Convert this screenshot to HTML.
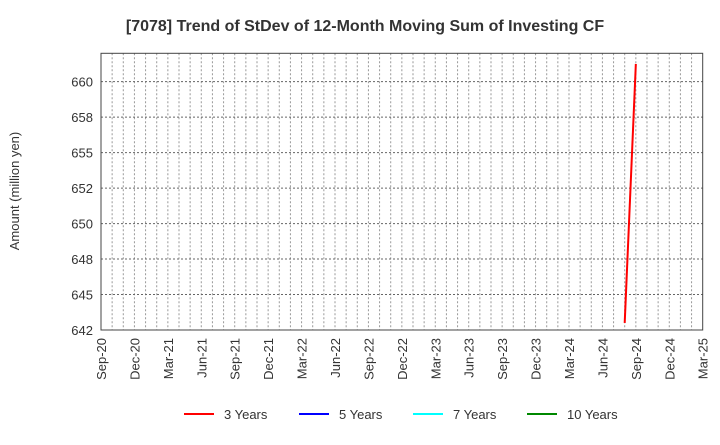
<!DOCTYPE html>
<html><head><meta charset="utf-8"><style>
body{margin:0;background:#fff;font-family:"Liberation Sans",sans-serif;}
svg text{font-family:"Liberation Sans",sans-serif;}
</style></head><body>
<svg width="720" height="440" xmlns="http://www.w3.org/2000/svg">
<text x="365" y="31" text-anchor="middle" font-size="16" font-weight="bold" fill="#333">[7078]  Trend of StDev of 12-Month Moving Sum of Investing CF</text>
<text transform="translate(19,191) rotate(-90)" text-anchor="middle" font-size="13" fill="#333">Amount (million yen)</text>
<g id="grid"></g><g id="yt"></g><g id="xt"></g><g id="series"></g>
<rect x="101" y="53.3" width="601.7" height="276.7" fill="none" stroke="#444" stroke-width="1"/>
<g font-size="13" fill="#333">
<line x1="184" y1="414" x2="214" y2="414" stroke="#f00" stroke-width="2"/><text x="224" y="419">3 Years</text>
<line x1="299" y1="414" x2="329" y2="414" stroke="#00f" stroke-width="2"/><text x="339" y="419">5 Years</text>
<line x1="413" y1="414" x2="443" y2="414" stroke="#0ff" stroke-width="2"/><text x="453" y="419">7 Years</text>
<line x1="527" y1="414" x2="557" y2="414" stroke="#080" stroke-width="2"/><text x="567" y="419">10 Years</text>
</g>
</svg>
<script>
const xLabels=["Sep-20","Dec-20","Mar-21","Jun-21","Sep-21","Dec-21","Mar-22","Jun-22","Sep-22","Dec-22","Mar-23","Jun-23","Sep-23","Dec-23","Mar-24","Jun-24","Sep-24","Dec-24","Mar-25"];
const yTicks=[642.5,645,647.5,650,652.5,655,657.5,660];
const yTickLabels=["642","645","648","650","652","655","658","660"];
const seriesMonths=[47,48]; // months since Sep-20
const series3=[643.0,661.25];
const NS="http://www.w3.org/2000/svg";
const X0=101,X1=702.7,Y0=330,Y1=53.3,MMAX=54,VMIN=642.5,VMAX=662.0;
const xs=m=>X0+(X1-X0)*m/MMAX, ys=v=>Y0-(Y0-Y1)*(v-VMIN)/(VMAX-VMIN);
function mk(t,a,p){const e=document.createElementNS(NS,t);for(const k in a)e.setAttribute(k,a[k]);p.appendChild(e);return e;}
const g=document.getElementById('grid'),yt=document.getElementById('yt'),xt=document.getElementById('xt'),sg=document.getElementById('series');
for(let m=1;m<MMAX;m++){const l=mk('line',{x1:xs(m),x2:xs(m),y1:Y1,y2:Y0,stroke:'#999','stroke-dasharray':'2,2'},g);

}
yTicks.forEach((v,i)=>{const l=mk('line',{x1:X0,x2:X1,y1:ys(v),y2:ys(v),stroke:'#666','stroke-dasharray':'2,2'},g);


const t=mk('text',{x:X0-8,y:ys(v)+5,'text-anchor':'end','font-size':'13',fill:'#333'},yt);t.textContent=yTickLabels[i];

});
xLabels.forEach((s,i)=>{const x=xs(i*3);const t=mk('text',{transform:`translate(${x+5},${Y0+8}) rotate(-90)`,'text-anchor':'end','font-size':'13',fill:'#333'},xt);t.textContent=s;

});
const pl=mk('polyline',{points:seriesMonths.map((m,i)=>xs(m)+','+ys(series3[i])).join(' '),fill:'none',stroke:'#f00','stroke-width':2},sg);


</script>
</body></html>
